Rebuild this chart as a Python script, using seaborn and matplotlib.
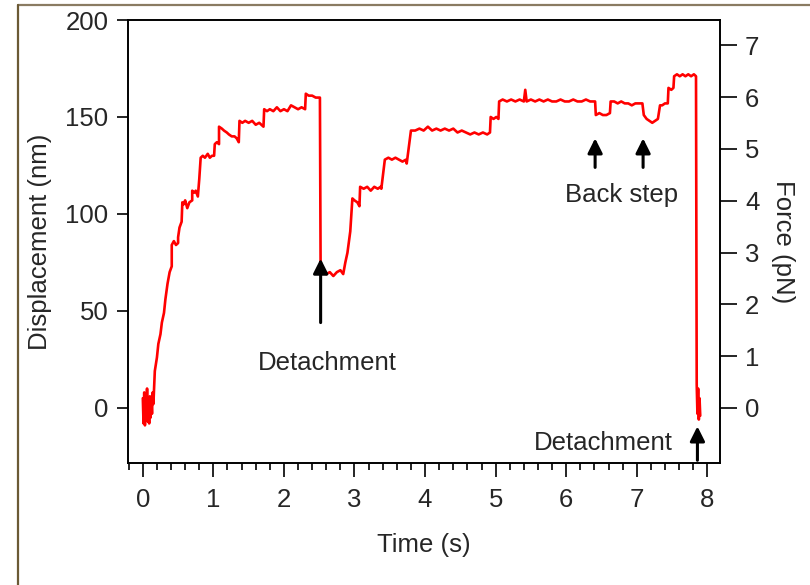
import seaborn as sns
import matplotlib.pyplot as plt
import matplotlib.ticker as mticker
from matplotlib.lines import Line2D
import pandas as pd

# trace: time (s) and displacement (nm)
time_s = [0.00, 0.01, 0.02, 0.03, 0.04, 0.05, 0.06, 0.07, 0.08, 0.09, 0.10, 0.11, 0.12, 0.13, 0.14, 0.15,
          0.17, 0.20, 0.22, 0.25, 0.27, 0.30, 0.32, 0.35, 0.38, 0.41, 0.41, 0.44, 0.47, 0.50, 0.50,
          0.52, 0.55, 0.56, 0.58, 0.60, 0.63, 0.66, 0.70, 0.70, 0.73, 0.75, 0.78, 0.80, 0.82, 0.85,
          0.88, 0.92, 0.95, 0.98, 1.01, 1.02, 1.05, 1.08, 1.08, 1.12, 1.15, 1.19, 1.22, 1.26, 1.30,
          1.33, 1.36, 1.37, 1.41, 1.45, 1.50, 1.55, 1.60, 1.65, 1.71, 1.72, 1.76, 1.80, 1.85, 1.90,
          1.95, 2.00, 2.05, 2.10, 2.15, 2.20, 2.25, 2.30, 2.31, 2.35, 2.40, 2.45, 2.51, 2.52, 2.56,
          2.60, 2.65, 2.70, 2.75, 2.80, 2.84, 2.87, 2.90, 2.94, 2.97, 3.00, 3.04, 3.07, 3.08, 3.13,
          3.18, 3.23, 3.28, 3.33, 3.37, 3.38, 3.43, 3.48, 3.53, 3.58, 3.63, 3.68, 3.73, 3.74, 3.80,
          3.86, 3.92, 3.98, 4.04, 4.10, 4.16, 4.22, 4.28, 4.34, 4.40, 4.46, 4.52, 4.58, 4.64, 4.70,
          4.76, 4.82, 4.88, 4.92, 4.93, 4.97, 5.01, 5.04, 5.05, 5.10, 5.16, 5.22, 5.28, 5.34, 5.40,
          5.42, 5.44, 5.50, 5.56, 5.62, 5.68, 5.74, 5.80, 5.86, 5.92, 5.98, 6.04, 6.10, 6.16, 6.22,
          6.28, 6.34, 6.41, 6.42, 6.47, 6.52, 6.57, 6.62, 6.63, 6.68, 6.73, 6.78, 6.83, 6.88, 6.93,
          6.98, 7.03, 7.08, 7.10, 7.14, 7.18, 7.22, 7.26, 7.30, 7.33, 7.36, 7.40, 7.44, 7.45, 7.49,
          7.52, 7.53, 7.57, 7.61, 7.65, 7.69, 7.73, 7.77, 7.81, 7.84, 7.85, 7.86, 7.87, 7.88, 7.89,
          7.90]
disp_nm = [5, -8, 8, -9, 3, -6, 10, -7, 2, -8, 6, -5, 4, -3, 8, 2,
           19, 26, 33, 38, 44, 49, 56, 64, 70, 73, 84, 86, 84, 85, 88,
           93, 96, 106, 105, 107, 103, 106, 107, 112, 111, 112, 109, 118, 129, 130,
           129, 131, 129, 130, 130, 136, 137, 136, 145, 144, 143, 142, 141, 140, 140,
           139, 137, 148, 147, 148, 147, 148, 146, 147, 145, 154, 153, 154, 153, 155,
           153, 154, 153, 156, 155, 154, 155, 154, 162, 161, 161, 160, 160, 69, 70,
           69, 70, 68, 70, 71, 69, 75, 80, 91, 108, 107, 106, 104, 114, 113,
           114, 112, 114, 113, 114, 113, 128, 129, 128, 129, 128, 127, 128, 126, 143,
           143, 144, 143, 145, 143, 144, 143, 144, 143, 144, 142, 143, 142, 141, 142,
           141, 142, 141, 142, 150, 149, 150, 149, 158, 159, 158, 159, 158, 159, 158,
           164, 158, 159, 158, 159, 158, 159, 158, 158, 159, 158, 158, 159, 158, 158,
           159, 158, 158, 151, 152, 151, 151, 152, 158, 158, 157, 158, 157, 157, 156,
           157, 157, 157, 151, 149, 148, 147, 148, 149, 156, 156, 157, 157, 165, 164,
           165, 171, 172, 171, 172, 171, 172, 171, 172, 171, 12, -3, 10, -6, 5,
           -4]

yticks_nm = [0, 50, 100, 150, 200]
yticks_pn = [0, 1, 2, 3, 4, 5, 6, 7]
nm_per_pn = 26.7

df = pd.DataFrame({"time": time_s, "disp": disp_nm})

sns.set_style("ticks")
plt.rcParams['font.family'] = ['Liberation Sans', 'DejaVu Sans']
fs = 18.5

fig = plt.figure(figsize=(8.1, 5.85), dpi=100)
ax = fig.add_axes([128 / 810, 1 - 463 / 585, (720 - 128) / 810, (463 - 20) / 585])

sns.lineplot(data=df, x="time", y="disp", ax=ax, color="#ff0000", lw=1.9,
             sort=False, estimator=None)

ax.set_xlim(-0.21, 8.18)
ax.set_ylim(-28.4, 200)
ax.set_xticks(range(0, 9))
ax.xaxis.set_minor_locator(mticker.MultipleLocator(0.2))
ax.set_yticks(yticks_nm)
ax.set_xlabel("Time (s)", fontsize=fs, labelpad=15)
ax.set_ylabel("Displacement (nm)", fontsize=fs, labelpad=10)
ax.tick_params(axis="both", which="major", labelsize=fs, direction="out", width=1.2, color="black")
ax.tick_params(axis="x", which="major", length=10, pad=8)
ax.tick_params(axis="x", which="minor", length=5, width=1.2, color="black")
ax.tick_params(axis="y", length=8, pad=6)
for s in ax.spines.values():
    s.set_color("black")
    s.set_linewidth(1.2)

ax2 = ax.twinx()
ax2.set_ylim(-28.4 / nm_per_pn, 200 / nm_per_pn)
ax2.set_yticks(yticks_pn)
ax2.tick_params(axis="y", labelsize=fs, length=12, width=1.2, pad=6, color="black")
ax2.set_ylabel("Force (pN)", fontsize=fs, rotation=270, labelpad=26)
for s in ax2.spines.values():
    s.set_color("black")
    s.set_linewidth(1.2)

arrow = dict(arrowstyle="-|>", color="black", lw=2.2, mutation_scale=22, shrinkA=0, shrinkB=0)
ax.annotate("", xy=(2.52, 77), xytext=(2.52, 44), arrowprops=arrow)
ax.annotate("", xy=(6.41, 139), xytext=(6.41, 124), arrowprops=arrow)
ax.annotate("", xy=(7.09, 139), xytext=(7.09, 124), arrowprops=arrow)
ax.annotate("", xy=(7.86, -9.5), xytext=(7.86, -27), arrowprops=arrow)

ax.text(2.62, 23, "Detachment", fontsize=fs, ha="center", va="center")
ax.text(6.78, 110, "Back step", fontsize=fs, ha="center", va="center")
ax.text(6.52, -18, "Detachment", fontsize=fs, ha="center", va="center")

# thin outer frame, top and left only
fig.add_artist(Line2D([18 / 810, 1], [1 - 5 / 585, 1 - 5 / 585], color="#8a7b62", lw=1.6))
fig.add_artist(Line2D([18 / 810, 18 / 810], [0, 1 - 5 / 585], color="#6b5a35", lw=1.6))

fig.savefig("out.png", dpi=100)
